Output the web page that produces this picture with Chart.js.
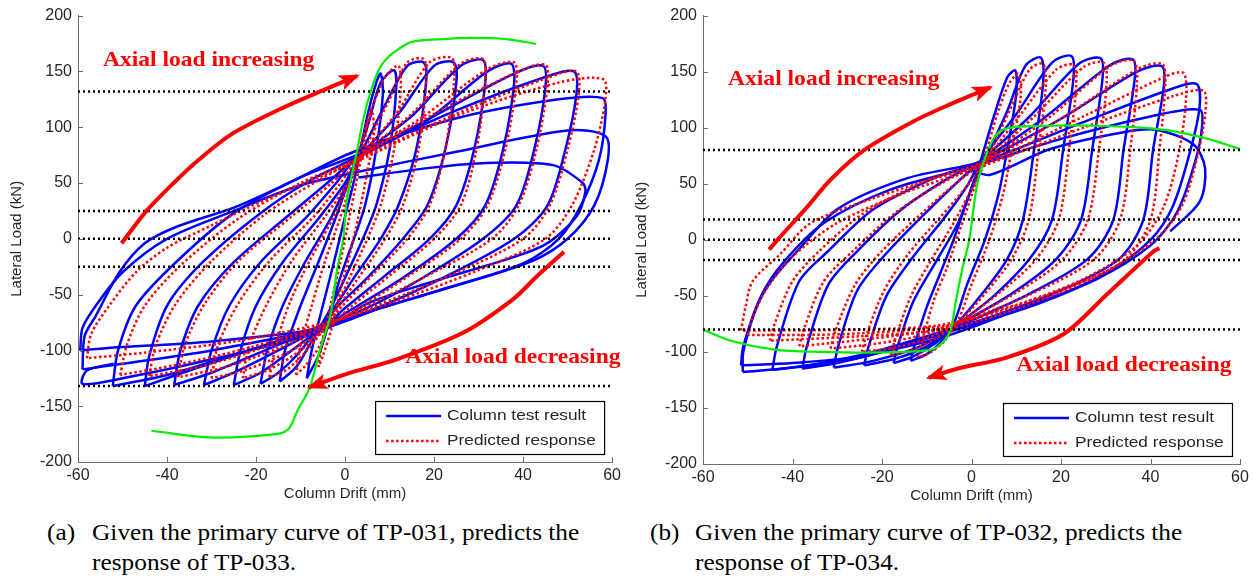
<!DOCTYPE html>
<html>
<head>
<meta charset="utf-8">
<script src="https://cdn.jsdelivr.net/npm/chart.js@4.4.1/dist/chart.umd.min.js"></script>
<style>
  body { margin:0; background:#fff; width:1256px; height:581px; position:relative; overflow:hidden; }
  canvas { position:absolute; top:0; }
  #chartA { left:0; }
  #chartB { left:625px; }
  .cap { position:absolute; font-family:"Liberation Serif","Times New Roman",serif; font-size:23px; line-height:30px; color:#000; white-space:nowrap; transform:scaleX(1.1); transform-origin:0 0; }
  .cap .tag { position:absolute; left:0; top:0; }
  .cap .txt { margin-left:41px; }
</style>
</head>
<body>
<canvas id="chartA" width="625" height="510"></canvas>
<canvas id="chartB" width="631" height="512"></canvas>
<div class="cap" style="left:47px; top:518px;"><span class="tag">(a)</span><div class="txt">Given the primary curve of TP-031, predicts the<br>response of TP-033.</div></div>
<div class="cap" style="left:650px; top:518px;"><span class="tag">(b)</span><div class="txt">Given the primary curve of TP-032, predicts the<br>response of TP-034.</div></div>
<script>
// axes
const driftTicks = [-60, -40, -20, 0, 20, 40, 60];
const loadTicks = [-200, -150, -100, -50, 0, 50, 100, 150, 200];

// (a) TP-033 : measured cycles [drift mm, load kN]
const testA = [
  [[-8.6,-125],[-7.5,-100],[-5,-60],[-2.5,-21],[0,20],[2.5,60],[5,110],[7,140],[8,148],[8.5,130],[7,80],[4.5,30],[2,0],[-1.5,-40],[-4,-80],[-6,-105],[-8.6,-125]],
  [[-14.7,-128],[-13.5,-100],[-10,-60],[-6,-21],[-2,20],[1.5,60],[5,100],[8,140],[11,151],[11.5,135],[10,80],[7,30],[4,0],[0,-35],[-4,-68],[-8,-95],[-11,-115],[-14.7,-128]],
  [[-19,-130],[-17.5,-100],[-14,-60],[-9,-21],[-3,20],[1,55],[4,80],[9,120],[14,155],[17.7,158],[18.2,140],[16,80],[12,30],[8,0],[2,-35],[-3,-65],[-7,-85],[-11,-105],[-15,-120],[-19,-130]],
  [[-25,-131],[-23.5,-100],[-20,-60],[-14,-21],[-6,18],[0,50],[3,72],[12,112],[20,155],[24.4,158],[25,140],[22.5,80],[18.5,30],[13,0],[5,-35],[-2,-62],[-5,-78],[-12,-100],[-19,-120],[-25,-131]],
  [[-31.7,-131],[-30,-100],[-26,-60],[-19,-21],[-9,18],[-2,50],[2,70],[15,110],[26,155],[31,160],[31.5,140],[29,80],[25,30],[19,0],[9,-33],[0,-62],[-4,-76],[-15,-100],[-25,-120],[-31.7,-131]],
  [[-38.4,-131],[-37,-100],[-33,-60],[-25,-21],[-13,20],[-4,50],[2,70],[18,105],[32,150],[37.3,157],[38,140],[35.5,80],[31.5,30],[25,0],[13,-35],[2,-62],[-4,-76],[-18,-100],[-30,-120],[-38.4,-131]],
  [[-45,-132],[-44,-105],[-40,-60],[-32,-21],[-19,23],[-8,52],[2,72],[20,110],[38,148],[44.5,155],[45,135],[42.5,80],[38.5,30],[31,0],[17,-36],[5,-62],[-4,-76],[-20,-98],[-35,-118],[-45,-132]],
  [[-52.2,-132],[-51,-100],[-47,-60],[-38,-21],[-25,23],[-10,55],[2,74],[25,115],[45,145],[51.4,150],[52,130],[49.5,80],[45.5,30],[38,0],[22,-35],[6,-64],[-4,-78],[-25,-104],[-40,-122],[-52.2,-132]],
  [[-59,-117],[-58.5,-87],[-56,-69],[-50.7,-30],[-45,-4],[-37.7,11],[-25,28],[-12.7,50],[2,78],[25,108],[48,125],[57.9,126],[58.5,110],[57,70],[53,30],[48,0],[40,-22],[22,-45],[5,-66],[-5,-80],[-30,-100],[-50,-112],[-59,-117]],
  [[-59.5,-100],[-59,-80],[-56,-60],[-50,-30],[-40,0],[-25,25],[-10,48],[3,60],[25,78],[50,97],[58.5,92],[59,70],[56,30],[50,0],[42,-20],[25,-42],[8,-62],[-5,-80],[-30,-92],[-50,-97],[-59.5,-100]],
  [[3,55],[20,64],[31.7,68],[46.7,66],[53.4,50],[54,42],[52,20],[45,-5],[35,-20],[20,-38],[5,-58],[-5,-82],[-30,-108],[-50,-125],[-59,-130],[-58,-118],[-52,-112]]
];

// (a) predicted cycles
const predA = [
  [[-6,-115],[-5,-90],[-3,-55],[-1,-20],[1,20],[3,60],[5,100],[6,115],[6.5,95],[5,60],[3,20],[1,-15],[-1,-45],[-3,-80],[-5,-105],[-6,-115]],
  [[-11,-122],[-10,-95],[-7.5,-60],[-4.5,-20],[-1,20],[2,60],[5,105],[9,145],[12,155],[12.5,135],[11,80],[8,30],[5,0],[1,-35],[-3,-70],[-6,-98],[-9,-114],[-11,-122]],
  [[-17,-124],[-15.5,-95],[-12.5,-58],[-8,-20],[-2.5,20],[1.5,55],[5,85],[10,125],[14,158],[17.7,161],[18.2,140],[16.5,80],[13,30],[9,0],[3,-35],[-2,-64],[-5,-82],[-9,-102],[-13,-117],[-17,-124]],
  [[-23,-125],[-21.5,-95],[-17.5,-58],[-12,-20],[-4.5,20],[1,52],[4,75],[12,115],[19,158],[24,162],[24.5,142],[22.5,80],[19,30],[14,0],[6,-33],[-1,-62],[-4,-78],[-10,-100],[-17,-117],[-23,-125]],
  [[-30,-125],[-28.5,-95],[-24,-58],[-17,-20],[-7,20],[-1,50],[3,72],[15,112],[26,157],[31,161],[31.5,142],[29.5,80],[26,30],[20,0],[10,-33],[1,-62],[-3,-77],[-12,-100],[-22,-117],[-30,-125]],
  [[-37.5,-124],[-36,-95],[-31.5,-58],[-24,-20],[-12,20],[-3,50],[2,70],[17,108],[32,152],[38,158],[38.5,140],[36,80],[32,30],[26,0],[14,-34],[3,-62],[-3,-76],[-15,-98],[-27,-115],[-37.5,-124]],
  [[-44,-123],[-42.5,-95],[-38,-58],[-30,-20],[-18,22],[-7,50],[2,70],[20,112],[39,150],[45,156],[45.5,138],[43,80],[39,30],[33,0],[18,-34],[5,-60],[-3,-75],[-18,-97],[-32,-114],[-44,-123]],
  [[-50.5,-122],[-49,-95],[-45,-60],[-37,-24],[-24,18],[-10,50],[2,70],[25,112],[46,145],[52,150],[52.5,130],[50,80],[46,30],[40,0],[24,-32],[7,-60],[-3,-75],[-22,-98],[-38,-113],[-50.5,-122]],
  [[-58,-107],[-57,-85],[-53,-60],[-47,-30],[-40,-8],[-30,12],[-18,35],[-6,55],[3,70],[25,110],[48,140],[58,143],[58.5,125],[56,80],[51,30],[45,0],[30,-28],[12,-55],[-3,-74],[-25,-92],[-45,-102],[-58,-107]]
];

// (a) primary curve of TP-031
const primaryA = [[-43.5,-172],[-30.5,-178],[-15.5,-175],[-12.6,-170],[-10.7,-154],[-8,-134],[-5.6,-99],[-3.3,-69],[-1.8,-28],[-0.4,0],[0.4,35],[2.7,79],[4.2,109],[6,135],[7.8,153],[10,164],[12,170],[15,176.5],[22,179],[28,180],[36.2,179],[42.9,174.6]];

const guidesA = [132, 25, 0, -25, -132];
const upArrowA = [[-50.2,-4],[-44.6,25],[-38.5,50],[-32.8,71],[-25.4,94],[-14.2,117],[-5,133],[2.7,146]];
const downArrowA = [[49.2,-11.6],[43,-34],[37.8,-54],[26.6,-84],[11.6,-108],[0.4,-121],[-8,-133]];

// (b) TP-034 : measured cycles
const testB = [
  [[-13.6,-108],[-12.8,-95],[-10,-60],[-7,-30],[-4,0],[-1,35],[2,70],[5,110],[8,145],[9.8,151],[10,130],[8,81],[6,40],[3,0],[-1,-40],[-4,-75],[-7,-92],[-10,-102],[-13.6,-108]],
  [[-17.4,-110],[-16.5,-95],[-13,-55],[-8,-20],[-3,15],[0,45],[3,72],[8,115],[12,155],[15.5,162.5],[16,140],[14,81],[11.5,18],[8,-17],[2,-50],[-4,-78],[-8,-92],[-13,-104],[-17.4,-110]],
  [[-24,-112],[-23,-95],[-19,-50],[-13,-15],[-6,20],[-1,48],[2,70],[10,112],[18,158],[22.3,164],[22.8,145],[20.5,81],[18,18],[13,-17],[5,-50],[-4,-78],[-10,-95],[-17,-106],[-24,-112]],
  [[-30.8,-114],[-29.8,-95],[-25.5,-45],[-19,-12],[-10,25],[-3,52],[2,70],[13,110],[24,157],[28.8,162],[29.3,145],[27,81],[24.5,18],[19,-17],[9,-48],[-3,-76],[-12,-96],[-22,-108],[-30.8,-114]],
  [[-37.8,-115],[-36.8,-95],[-32,-40],[-25.5,-10],[-16,26],[-6,53],[2,70],[16,108],[31,156],[36,161],[36.5,145],[34,81],[31.7,18],[26,-17],[13,-48],[0,-72],[-6,-82],[-20,-100],[-30,-110],[-37.8,-115]],
  [[-44.5,-116],[-43.5,-95],[-38.5,-37],[-32,-10],[-22,27],[-9,54],[2,70],[20,108],[37,150],[42.5,155],[43,138],[40.6,81],[38.4,18],[33,-17],[20,-45],[5,-68],[-5,-80],[-22,-100],[-35,-111],[-44.5,-116]],
  [[-51.1,-118],[-51,-100],[-48,-60],[-44.8,-37],[-38.9,-10],[-29.7,28],[-14.3,55],[2.6,70],[25,105],[45,135],[50.3,139],[51,120],[49,81],[45,30],[40,0],[30,-30],[15,-57],[-5,-82],[-25,-105],[-40,-114],[-51.1,-118]],
  [[-51.5,-112],[-51,-95],[-47,-50],[-42,-20],[-33,15],[-18,45],[0,65],[20,90],[40,110],[51,116],[51.5,100],[50,70],[46,25],[40,-5],[28,-35],[12,-60],[-5,-85],[-25,-104],[-40,-110],[-51.5,-112]],
  [[0,62],[4.2,58],[17.6,81],[34,96],[41.5,98],[49.6,85],[52.2,63.7],[51,34],[44.4,7.5]]
];

// (b) predicted cycles
const predB = [
  [[-12,-105],[-11,-90],[-8.5,-55],[-5.5,-25],[-2.5,10],[0.5,45],[3,75],[6,115],[8.5,140],[10.5,148],[11,128],[9,81],[7,40],[4,0],[0,-40],[-3,-72],[-6,-90],[-9,-100],[-12,-105]],
  [[-18,-103],[-17,-88],[-13.5,-50],[-9,-18],[-4,15],[0,45],[3.5,72],[8.5,115],[13,152],[16,157],[16.6,138],[15,81],[12.8,18],[9,-17],[3,-48],[-3,-74],[-8,-88],[-13,-98],[-18,-103]],
  [[-24.5,-100],[-23.5,-85],[-19.5,-45],[-14,-12],[-7,20],[-1,48],[3,70],[11,112],[19,152],[22.8,156],[23.4,138],[21.8,81],[19.5,18],[14.5,-17],[6,-48],[-3,-74],[-10,-88],[-17,-96],[-24.5,-100]],
  [[-31.5,-97],[-30.5,-82],[-26,-40],[-20,-10],[-11,24],[-3,52],[3,70],[14,110],[25,154],[29.5,158],[30.2,140],[28.5,81],[26,18],[20.5,-17],[10,-47],[-2,-72],[-12,-86],[-22,-93],[-31.5,-97]],
  [[-38.5,-95],[-37.5,-80],[-33,-37],[-26.5,-10],[-17,24],[-6,52],[3,70],[17,108],[31,155],[36.2,160],[37,142],[35.5,81],[33.2,18],[27.5,-17],[14,-47],[0,-70],[-8,-80],[-22,-88],[-38.5,-95]],
  [[-45,-90],[-44,-75],[-40,-37],[-34,-10],[-24,24],[-10,53],[3,70],[20,108],[37,152],[42.6,157],[43.3,140],[42,81],[40,18],[34.5,-17],[21,-45],[6,-67],[-6,-80],[-25,-86],[-45,-90]],
  [[-51.5,-81],[-50.5,-60],[-48.9,-37],[-42.8,-13],[-35.9,15],[-22,37],[-8,55],[2.6,67],[25,110],[43,145],[47.3,149],[48,130],[46.5,81],[43,30],[37,-5],[25,-35],[10,-58],[-7,-76],[-25,-80],[-51.5,-81]],
  [[-50,-85],[-49,-70],[-46,-45],[-40,-15],[-30,15],[-15,42],[2,65],[25,100],[45,128],[51.8,133],[52.3,115],[50.5,75],[47,30],[41,0],[30,-28],[15,-52],[-5,-76],[-28,-84],[-50,-85]]
];

// (b) primary curve of TP-032
const primaryB = [[-60,-80],[-53.8,-90],[-44,-98],[-34,-100],[-20,-100.5],[-9,-98],[-6.1,-90],[-4.6,-79],[-3.5,-55],[-2,-25],[-0.5,0],[1.3,50],[3.6,79],[5.8,95],[8.7,100],[15,101.5],[22.8,102],[30,101.5],[37.8,100],[45,97],[52.8,90],[60,81]];

const guidesB = [80, 18, 0, -18, -80];
const upArrowB = [[-45.2,-8.7],[-43.3,0.2],[-37,28],[-31.4,54],[-24,80],[-12.8,106],[-4.7,121],[4.2,136]];
const downArrowB = [[42,-7.5],[40.7,-10.2],[30.3,-48.6],[20.6,-84],[8,-104.8],[-3.2,-115],[-9.6,-123]];

const BLUE = '#0000ff', RED = '#ff0000', GREEN = '#00ee00', AXIS = '#6e6e6e', TXT = '#262626';

function xy(pts){ return pts.map(p => ({x:p[0], y:p[1]})); }

function curve(pts, color, width, dash, order, tension){
  return { data: xy(pts), borderColor: color, borderWidth: width, borderDash: dash,
           showLine: true, pointRadius: 0, fill: false, tension: tension, order: order };
}

// text stretched sideways a little, like the source figure
function wideText(ctx, text, x, y, sx){
  ctx.save(); ctx.translate(x, y); ctx.scale(sx, 1); ctx.fillText(text, 0, 0); ctx.restore();
}

// inward ticks, arrow heads, red notes, boxed legend
const extras = {
  id: 'extras',
  afterDatasetsDraw(chart){
    const ctx = chart.ctx;
    chart.data.datasets.forEach((ds, i) => {
      if(!ds.arrow) return;
      const el = chart.getDatasetMeta(i).data;
      const a = el[el.length-2], b = el[el.length-1];
      const ang = Math.atan2(b.y-a.y, b.x-a.x);
      ctx.save();
      ctx.translate(b.x, b.y); ctx.rotate(ang);
      ctx.fillStyle = ds.borderColor;
      ctx.beginPath();
      ctx.moveTo(3,0); ctx.lineTo(-18,-8); ctx.lineTo(-13,0); ctx.lineTo(-18,8);
      ctx.closePath(); ctx.fill();
      ctx.restore();
    });
  },
  afterDraw(chart, args, o){
    const ctx = chart.ctx, ca = chart.chartArea;
    const xs = chart.scales.x, ys = chart.scales.y;
    ctx.save();
    ctx.strokeStyle = AXIS; ctx.lineWidth = 1;
    ctx.beginPath();
    xs.ticks.forEach(t => { const p = Math.round(xs.getPixelForValue(t.value)) + 0.5; ctx.moveTo(p, ca.bottom); ctx.lineTo(p, ca.bottom-5); });
    ys.ticks.forEach(t => { const p = Math.round(ys.getPixelForValue(t.value)) + 0.5; ctx.moveTo(ca.left, p); ctx.lineTo(ca.left+5, p); });
    ctx.stroke();

    ctx.fillStyle = RED;
    ctx.font = 'bold 22px "Liberation Serif"';
    ctx.textBaseline = 'middle'; ctx.textAlign = 'left';
    o.notes.forEach(n => wideText(ctx, n.text, xs.getPixelForValue(n.x), ys.getPixelForValue(n.y), 1.07));

    const bx = ca.right - 237, by = ca.bottom - 61, bw = 229, bh = 53;
    ctx.fillStyle = '#fff'; ctx.fillRect(bx, by, bw, bh);
    ctx.strokeStyle = '#000'; ctx.lineWidth = 1.2; ctx.strokeRect(bx+0.5, by+0.5, bw, bh);
    ctx.lineWidth = 2.5;
    ctx.strokeStyle = BLUE; ctx.setLineDash([]);
    ctx.beginPath(); ctx.moveTo(bx+11, by+15); ctx.lineTo(bx+66, by+15); ctx.stroke();
    ctx.strokeStyle = RED; ctx.setLineDash([2.5,2.5]);
    ctx.beginPath(); ctx.moveTo(bx+11, by+40); ctx.lineTo(bx+66, by+40); ctx.stroke();
    ctx.setLineDash([]);
    ctx.fillStyle = TXT; ctx.font = '15px "Liberation Sans"';
    wideText(ctx, 'Column test result', bx+72, by+15, 1.15);
    wideText(ctx, 'Predicted response', bx+72, by+40, 1.15);
    ctx.restore();
  }
};

function makeChart(id, test, pred, primary, guides, upArrow, downArrow, notes, padRight){
  const sets = [];
  test.forEach(c => sets.push(curve(c, BLUE, 2.5, [], 5, 0.3)));
  pred.forEach(c => sets.push(curve(c, RED, 2.5, [2.5,2.5], 4, 0.3)));
  sets.push(curve(primary, GREEN, 2.2, [], 3, 0.3));
  guides.forEach(g => sets.push(curve([[driftTicks[0], g], [driftTicks[driftTicks.length-1], g]], '#000', 2.5, [2,3], 2, 0)));
  [upArrow, downArrow].forEach(a => { const d = curve(a, RED, 4, [], 1, 0.3); d.arrow = true; sets.push(d); });

  return new Chart(document.getElementById(id), {
    type: 'scatter',
    data: { datasets: sets },
    plugins: [extras],
    options: {
      responsive: false, animation: false, events: [],
      layout: { padding: { top: 13, right: padRight, bottom: 0, left: 0 } },
      plugins: { legend: { display: false }, tooltip: { enabled: false }, extras: { notes } },
      scales: {
        x: {
          type: 'linear', min: driftTicks[0], max: driftTicks[driftTicks.length-1],
          ticks: { stepSize: driftTicks[1]-driftTicks[0], padding: 4, color: TXT, font: { family: 'Liberation Sans', size: 16 } },
          grid: { display: false, drawTicks: false },
          border: { display: true, color: AXIS, width: 1 },
          title: { display: true, text: 'Column Drift (mm)', color: TXT, font: { family: 'Liberation Sans', size: 15 }, padding: { top: 0, bottom: 7 } },
          afterFit: s => { s.height = 48; }
        },
        y: {
          type: 'linear', min: loadTicks[0], max: loadTicks[loadTicks.length-1],
          ticks: { stepSize: loadTicks[1]-loadTicks[0], padding: 6, color: TXT, font: { family: 'Liberation Sans', size: 16 } },
          grid: { display: false, drawTicks: false },
          border: { display: true, color: AXIS, width: 1 },
          title: { display: true, text: 'Lateral Load (kN)', color: TXT, font: { family: 'Liberation Sans', size: 15 }, padding: { top: 8, bottom: 0 } },
          afterFit: s => { s.width = 78; }
        }
      }
    }
  });
}

makeChart('chartA', testA, predA, primaryA, guidesA, upArrowA, downArrowA,
  [{ text: 'Axial load increasing', x: -54.4, y: 159.5 }, { text: 'Axial load decreasing', x: 13.5, y: -106 }], 10);
makeChart('chartB', testB, predB, primaryB, guidesB, upArrowB, downArrowB,
  [{ text: 'Axial load increasing', x: -54.4, y: 143 }, { text: 'Axial load decreasing', x: 10, y: -112 }], 16);
</script>
</body>
</html>
